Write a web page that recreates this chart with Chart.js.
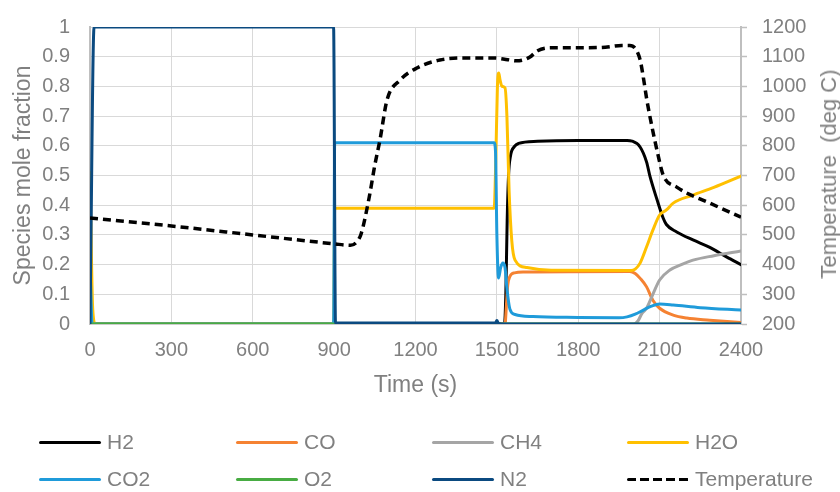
<!DOCTYPE html>
<html>
<head>
<meta charset="utf-8">
<script src="https://cdn.jsdelivr.net/npm/chart.js@4.4.1/dist/chart.umd.min.js"></script>
<style>
  html, body { margin: 0; padding: 0; background: #fff; }
  #wrap { position: relative; width: 840px; height: 492px; font-family: "Liberation Sans", Arial, sans-serif; color: #808080; }
  #grafico { position: absolute; left: 0; top: 0; }
  #tituloDireita {
    position: absolute; left: 829px; top: 174px; white-space: pre; font-size: 22px;
    transform: translate(-50%, -50%) rotate(-90deg);
  }
  .leg-item { position: absolute; height: 24px; display: flex; align-items: center; font-size: 21px; }
  .leg-linha { width: 62px; height: 3px; border-radius: 2px; margin-right: 6px; }
</style>
</head>
<body>
<div id="wrap">
  <canvas id="grafico" width="840" height="492"></canvas>
  <div id="tituloDireita">Temperature  (deg C)</div>
  <div id="legenda"></div>
</div>
<script>
// ---------------------------------------------------------
// Dados (tempo em s, fração molar, temperatura em °C)
// ---------------------------------------------------------
const h2Time = [0, 1528, 1533, 1538, 1543, 1550, 1565, 1580, 1650, 1800, 1980, 1998, 2028, 2052, 2065, 2090, 2113, 2125, 2163, 2223, 2285, 2348, 2400];
const h2Frac = [0, 0, 0.1, 0.35, 0.5, 0.565, 0.598, 0.608, 0.615, 0.618, 0.618, 0.616, 0.596, 0.545, 0.495, 0.42, 0.357, 0.335, 0.31, 0.283, 0.258, 0.225, 0.2];

const coTime = [0, 1530, 1535, 1540, 1548, 1565, 1600, 1990, 2010, 2030, 2052, 2075, 2100, 2150, 2200, 2285, 2400];
const coFrac = [0, 0, 0.06, 0.13, 0.16, 0.172, 0.175, 0.177, 0.17, 0.152, 0.125, 0.08, 0.053, 0.03, 0.02, 0.013, 0.005];

const ch4Time = [0, 2005, 2020, 2035, 2052, 2075, 2100, 2138, 2180, 2223, 2300, 2400];
const ch4Frac = [0, 0, 0.01, 0.036, 0.053, 0.1, 0.148, 0.182, 0.2, 0.215, 0.23, 0.246];

const h2oTime = [0, 10, 20, 898, 902, 1490, 1496, 1502, 1507, 1512, 1519, 1530, 1537, 1545, 1555, 1567, 1611, 1700, 1995, 2010, 2028, 2052, 2075, 2100, 2125, 2150, 2223, 2300, 2400];
const h2oFrac = [0.51, 0.05, 0, 0, 0.39, 0.39, 0.55, 0.8, 0.845, 0.82, 0.8, 0.795, 0.7, 0.45, 0.28, 0.215, 0.19, 0.181, 0.18, 0.185, 0.205, 0.26, 0.316, 0.367, 0.384, 0.407, 0.434, 0.46, 0.498];

const co2Time = [0, 8, 898, 902, 1490, 1495, 1500, 1506, 1514, 1522, 1530, 1537, 1548, 1567, 1633, 1800, 1950, 1980, 2010, 2040, 2070, 2100, 2150, 2250, 2400];
const co2Frac = [0.2, 0, 0, 0.61, 0.61, 0.58, 0.3, 0.155, 0.19, 0.205, 0.19, 0.12, 0.05, 0.032, 0.025, 0.022, 0.021, 0.024, 0.033, 0.047, 0.06, 0.067, 0.064, 0.055, 0.047];

const o2Time = [0, 2400];
const o2Frac = [0, 0];

const n2Time = [0, 15, 898, 905, 1495, 1500, 1506, 1530, 2400];
const n2Frac = [0, 1, 1, 0.003, 0.003, 0.012, 0.002, 0, 0];

const tempTime = [0, 300, 600, 900, 960, 985, 1000, 1030, 1050, 1069, 1095, 1143, 1205, 1290, 1389, 1487, 1540, 1573, 1600, 1622, 1650, 1700, 1800, 1900, 1960, 1990, 2010, 2028, 2040, 2053, 2072, 2090, 2113, 2163, 2285, 2400];
const tempC = [557, 530, 500, 470, 465, 478, 505, 630, 735, 820, 954, 1021, 1062, 1089, 1096, 1096, 1090, 1086, 1090, 1099, 1120, 1130, 1130, 1132, 1138, 1138, 1128, 1090, 1030, 954, 863, 786, 702, 661, 607, 560];

const xTicks = [0, 300, 600, 900, 1200, 1500, 1800, 2100, 2400];

const cinza = "#808080";
const fonte = '"Liberation Sans", Arial, sans-serif';

function pontos(ts, vs) {
  return ts.map((t, i) => ({ x: t, y: vs[i] }));
}

function serie(label, ts, vs, cor, extra) {
  return Object.assign({
    label: label,
    data: pontos(ts, vs),
    borderColor: cor,
    backgroundColor: cor,
    borderWidth: 3,
    pointRadius: 0,
    cubicInterpolationMode: "monotone",
    borderJoinStyle: "round",
    borderCapStyle: "round",
    yAxisID: "y",
  }, extra || {});
}

const datasets = [
  serie("H2", h2Time, h2Frac, "#000000"),
  serie("CO", coTime, coFrac, "#F58232"),
  serie("CH4", ch4Time, ch4Frac, "#A5A5A5"),
  serie("H2O", h2oTime, h2oFrac, "#FFC000"),
  serie("CO2", co2Time, co2Frac, "#1F9BDA"),
  serie("O2", o2Time, o2Frac, "#48AC43"),
  serie("N2", n2Time, n2Frac, "#0B4A80"),
  serie("Temperature", tempTime, tempC, "#000000", { yAxisID: "y1", borderDash: [8, 5], borderCapStyle: "butt", borderWidth: 3.5 }),
];
// Excel desenha a última série por cima
datasets.forEach((d, i) => { d.order = datasets.length - i; });

// ---------------------------------------------------------
// Gráfico
// ---------------------------------------------------------
Chart.defaults.font.family = fonte;
Chart.defaults.color = cinza;

new Chart(document.getElementById("grafico"), {
  type: "line",
  data: { datasets: datasets },
  options: {
    responsive: false,
    animation: false,
    layout: { padding: { left: 10, right: 0, top: 27, bottom: 92 } },
    plugins: { legend: { display: false }, tooltip: { enabled: false } },
    scales: {
      x: {
        type: "linear",
        min: 0,
        max: 2400,
        afterBuildTicks: (s) => { s.ticks = xTicks.map((v) => ({ value: v })); },
        afterFit: (s) => { s.height = 76; },
        ticks: { font: { size: 20 }, padding: 14, maxRotation: 0, callback: (v) => String(v) },
        grid: { color: "#D9D9D9", lineWidth: 1, drawTicks: false },
        border: { color: "#BFBFBF", width: 1.5 },
        title: { display: true, text: "Time (s)", font: { size: 23 }, padding: { top: 0, bottom: 1 } },
      },
      y: {
        position: "left",
        min: 0,
        max: 1,
        afterFit: (s) => { s.width = 80; },
        // o espaço até o eixo vem de um "tick" invisível, assim o padding não empurra o topo
        ticks: { stepSize: 0.1, font: { size: 20 }, padding: 0, callback: (v) => String(Number(v.toFixed(1))) },
        grid: { color: "#D9D9D9", lineWidth: 1, drawTicks: true, tickLength: 20, tickColor: "rgba(0,0,0,0)" },
        border: { color: "#BFBFBF", width: 2 },
        title: { display: true, text: "Species mole fraction", font: { size: 23 }, padding: { top: 0, bottom: 0 } },
      },
      y1: {
        position: "right",
        min: 200,
        max: 1200,
        afterFit: (s) => { s.width = 99; },
        ticks: { stepSize: 100, font: { size: 20 }, padding: 15, callback: (v) => String(v) },
        grid: { drawOnChartArea: false, drawTicks: true, tickLength: 6, tickColor: "#BFBFBF", tickWidth: 1.5 },
        border: { color: "#BFBFBF", width: 2 },
      },
    },
  },
});

// ---------------------------------------------------------
// Legenda em grade (4 colunas x 2 linhas), montada a partir das séries
// ---------------------------------------------------------
const colX = [39, 236, 432, 627];
const linhaY = [442, 479];
const legenda = document.getElementById("legenda");
datasets.forEach((d, i) => {
  const item = document.createElement("div");
  item.className = "leg-item";
  item.style.left = colX[i % 4] + "px";
  item.style.top = (linhaY[Math.floor(i / 4)] - 12) + "px";
  const linha = document.createElement("div");
  linha.className = "leg-linha";
  if (d.borderDash) {
    linha.style.background = "repeating-linear-gradient(to right, #000 0 9px, transparent 9px 13px)";
  } else {
    linha.style.background = d.borderColor;
  }
  const txt = document.createElement("span");
  txt.textContent = d.label;
  item.appendChild(linha);
  item.appendChild(txt);
  legenda.appendChild(item);
});
</script>
</body>
</html>
